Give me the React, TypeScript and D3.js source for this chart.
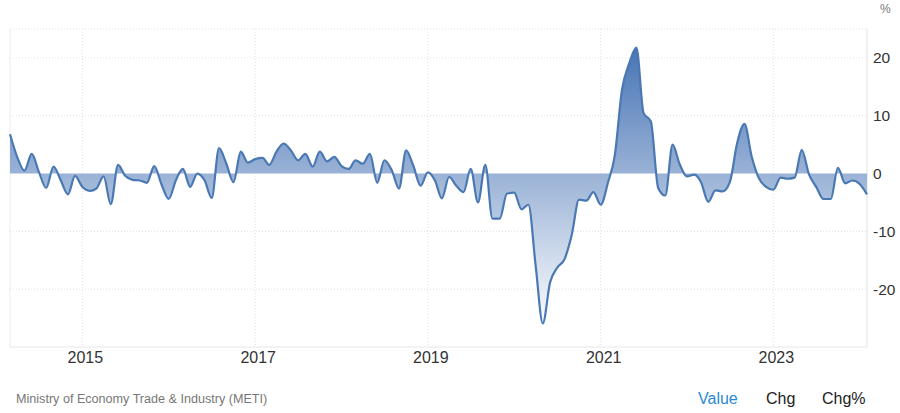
import React from "react";
import * as d3 from "d3";

const START = new Date(2014, 2, 1); // March 2014, monthly data
const values: number[] = [
  // 2014 Mar-Dec
  6.8, 2.8, 0.5, 3.4, 0.3, -2.5, 1.2, -1.1, -3.6, -0.4,
  // 2015
  -2.3, -3.0, -2.6, -0.5, -5.3, 1.5, -0.4, -1.1, -1.2, -1.6, 1.3, -1.8,
  // 2016
  -4.4, -1.1, 0.8, -2.3, 0.0, -1.2, -4.2, 4.4, 1.7, -1.5, 3.8, 1.9,
  // 2017
  2.5, 2.7, 1.5, 3.8, 5.2, 4.0, 2.3, 3.4, 1.2, 3.8, 2.1, 2.9,
  // 2018
  1.3, 0.8, 2.3, 1.7, 3.4, -1.6, 2.3, 0.6, -2.6, 4.0, 1.3, -2.1,
  // 2019
  0.2, -1.3, -4.3, -0.6, -2.1, -3.2, 0.8, -5.0, 1.5, -7.8, -7.8, -3.5,
  // 2020
  -3.3, -6.2, -5.4, -16.0, -25.9, -18.8, -16.3, -14.8, -10.5, -4.5, -4.7, -3.2,
  // 2021
  -5.4, -1.5, 3.0, 14.5, 19.0, 21.8, 10.5, 9.0, -2.5, -3.8, 5.0, 1.6,
  // 2022
  -0.5, -0.2, -1.5, -4.9, -2.9, -3.1, -1.5, 5.3, 8.6, 3.0, -0.8, -2.3,
  // 2023
  -2.8, -0.7, -0.9, -0.7, 4.1, -0.2, -2.3, -4.4, -4.4, 1.0, -1.7, -1.2,
  // 2024 Jan-Feb
  -1.8, -3.6,
];
const yTicks: number[] = [20, 10, 0, -10, -20];
const yGrid: number[] = [25, 20, 10, -10, -20];
const xTickYears: number[] = [2015, 2017, 2019, 2021, 2023];
const sourceText = "Ministry of Economy Trade & Industry (METI)";
const buttons: string[] = ["Value", "Chg", "Chg%"];

export default function App() {
  const W = 900;
  const H = 413;
  const left = 10;
  const right = 867;
  const top = 29;
  const bottom = 347;

  const data = values.map((v, i) => ({ date: d3.timeMonth.offset(START, i), v }));
  const x = d3
    .scaleTime()
    .domain([data[0].date, data[data.length - 1].date])
    .range([left, right]);
  const y = d3.scaleLinear().domain([-30, 25]).range([bottom, top]);

  const area = d3
    .area<{ date: Date; v: number }>()
    .x((d) => x(d.date))
    .y0(y(0))
    .y1((d) => y(d.v))
    .curve(d3.curveMonotoneX);
  const line = d3
    .line<{ date: Date; v: number }>()
    .x((d) => x(d.date))
    .y((d) => y(d.v))
    .curve(d3.curveMonotoneX);

  const font = "'Liberation Sans', Arial, sans-serif";

  return (
    <svg
      width={W}
      height={H}
      style={{ position: "absolute", left: 0, top: 0, background: "#fff" }}
    >
      <defs>
        <linearGradient id="fillGrad" gradientUnits="userSpaceOnUse" x1={0} y1={45} x2={0} y2={330}>
          <stop offset="0" stopColor="#4673b4" />
          <stop offset="1" stopColor="#ffffff" />
        </linearGradient>
      </defs>

      {/* horizontal grid */}
      {yGrid.map((t) => (
        <line
          key={"hg" + t}
          x1={left}
          x2={right}
          y1={y(t)}
          y2={y(t)}
          stroke="#e0e0e0"
          strokeDasharray="1,2"
        />
      ))}
      {/* vertical grid */}
      {xTickYears.map((yr) => {
        const xx = x(new Date(yr, 0, 1));
        return (
          <line
            key={"vg" + yr}
            x1={xx}
            x2={xx}
            y1={top}
            y2={bottom}
            stroke="#e0e0e0"
            strokeDasharray="1,2"
          />
        );
      })}
      <line x1={left} x2={left} y1={top} y2={bottom} stroke="#ececec" />
      <line x1={right} x2={right} y1={top} y2={bottom} stroke="#e2e2e2" />
      <line x1={left} x2={right} y1={bottom} y2={bottom} stroke="#e6e6e6" />

      <path d={area(data) || ""} fill="url(#fillGrad)" />
      <path d={line(data) || ""} fill="none" stroke="#4a78b3" strokeWidth={2.2} strokeLinejoin="round" />

      {/* y labels */}
      {yTicks.map((t) => (
        <text
          key={"yl" + t}
          x={873}
          y={y(t)}
          dy="0.35em"
          fontFamily={font}
          fontSize={15.5}
          fill="#333"
        >
          {t}
        </text>
      ))}
      <text x={880} y={13} fontFamily={font} fontSize={12} fill="#777">
        %
      </text>

      {/* x labels */}
      {xTickYears.map((yr) => (
        <text
          key={"xl" + yr}
          x={x(new Date(yr, 0, 1)) + 3}
          y={363}
          textAnchor="middle"
          fontFamily={font}
          fontSize={16}
          fill="#333"
        >
          {yr}
        </text>
      ))}

      <text x={16} y={403} fontFamily={font} fontSize={12.6} fill="#777">
        {sourceText}
      </text>
      {buttons.map((b, i) => (
        <text
          key={b}
          x={[698, 766, 822][i]}
          y={404}
          fontFamily={font}
          fontSize={16}
          fill={i === 0 ? "#2a8ad4" : "#222"}
        >
          {b}
        </text>
      ))}
    </svg>
  );
}
